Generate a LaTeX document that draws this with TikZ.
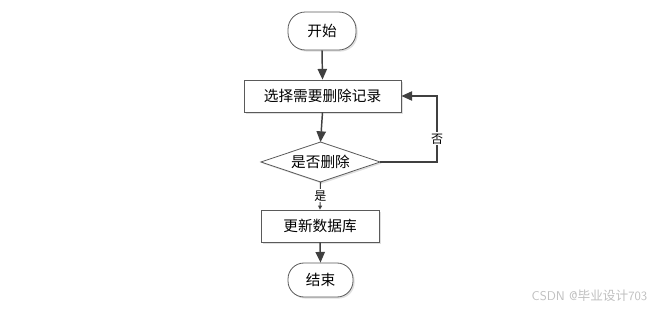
\documentclass[tikz,border=0pt]{standalone}
\usepackage{fontspec}
\newfontfamily\cjk{Noto Sans CJK SC}
\usetikzlibrary{arrows.meta,shadows}
\definecolor{linec}{HTML}{404040}
\definecolor{bordc}{HTML}{5A5A5A}
\begin{document}
\begin{tikzpicture}[x=0.75pt,y=-0.75pt,
  font=\cjk\fontsize{11pt}{13pt}\selectfont,
  shade/.style={drop shadow={opacity=0.25,shadow xshift=1.2pt,shadow yshift=-1.2pt}},
  termbox/.style={draw=bordc,fill=white,rounded corners=13pt,line width=0.6pt,inner sep=0pt,shade},
  procbox/.style={draw=bordc,fill=white,line width=0.6pt,inner sep=0pt,shade},
  decbox/.style={draw=bordc,fill=white,line width=0.6pt,shade},
  conn/.style={draw=linec,line width=1.1pt,-{Triangle[length=8pt,width=7pt]}},
  small/.style={draw=linec,line width=0.8pt,-{Triangle[length=3pt,width=3pt]}},
  lbl/.style={fill=white,inner sep=1pt,font=\cjk\fontsize{9pt}{11pt}\selectfont}
]
\useasboundingbox (0,0) rectangle (659,309);
\node[termbox,minimum width=68*0.75pt,minimum height=38*0.75pt] (start) at (322,31) {开始};
\node[procbox,minimum width=157*0.75pt,minimum height=32*0.75pt] (sel) at (322.5,96) {选择需要删除记录};
\path[decbox] (261,162) -- (320.5,142) -- (380,162) -- (320.5,182) -- cycle;
\node[inner sep=0pt,minimum width=119*0.75pt,minimum height=40*0.75pt] (dec) at (320.5,162) {是否删除};
\node[procbox,minimum width=118*0.75pt,minimum height=32*0.75pt] (upd) at (320,226) {更新数据库};
\node[termbox,minimum width=65*0.75pt,minimum height=34*0.75pt,rounded corners=12pt] (end) at (320.5,280) {结束};
\coordinate (dtop) at (320.5,142);
\coordinate (dbot) at (320.5,182);
\coordinate (dright) at (380,162);
\coordinate (corner) at (437,162);
\draw[conn] (start.south) -- (sel.north);
\draw[conn] (sel.south) -- (dtop);
\draw[small] (dbot) -- node[lbl,pos=0.5] (yes) {是} (upd.north);
\draw[conn] (upd.south) -- (end.north);
\draw[draw=linec,line width=0.8pt,-{Triangle[length=8pt,width=7pt]}] (dright) -- (corner) -- node[lbl,pos=0.35] (no) {否} (corner |- sel.east) -- (sel.east);
\node[text=gray!50,font=\sffamily\fontsize{9.5pt}{11pt}\selectfont,anchor=east] (wm) at (652,296) {CSDN @{\cjk 毕业设计}703};
\end{tikzpicture}
\end{document}
